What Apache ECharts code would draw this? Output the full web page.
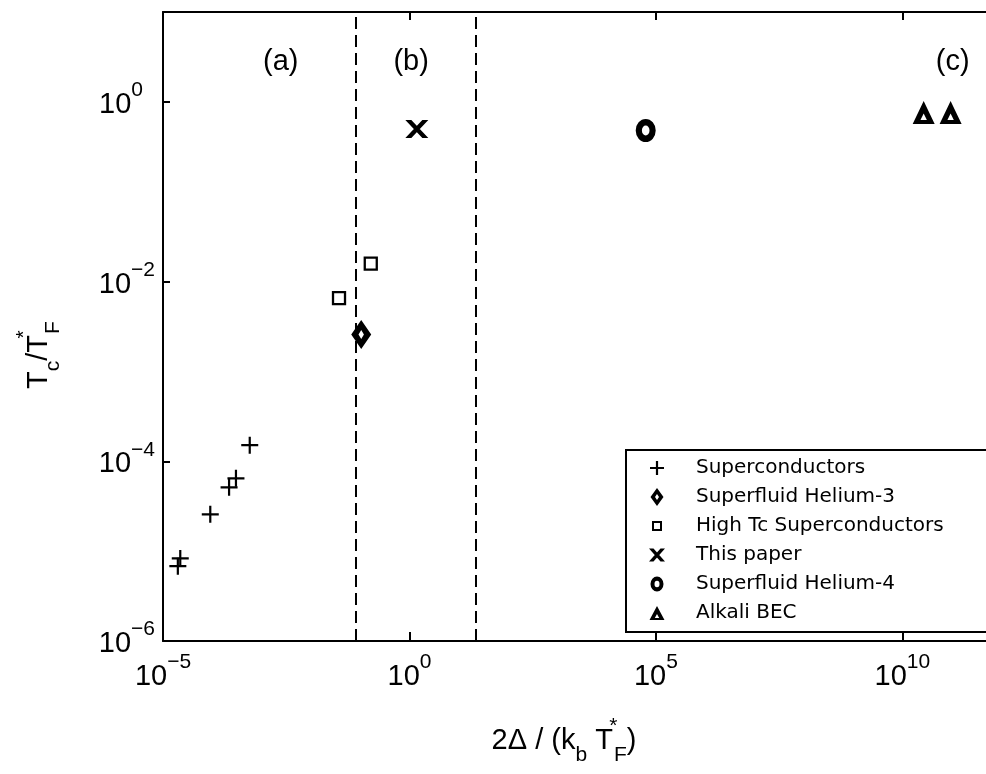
<!DOCTYPE html>
<html>
<head>
<meta charset="utf-8">
<script src="https://cdn.jsdelivr.net/npm/echarts@6/dist/echarts.min.js"></script>
<style>html,body{margin:0;padding:0;background:#fff}#c{width:986px;height:774px}</style>
</head>
<body>
<div id="c"></div>
<script>
// ---- data ----
const superconductors = [[5.75e-4, 1.51e-4], [3.02e-4, 6.46e-5], [2.19e-4, 5.13e-5], [9.1e-5, 2.57e-5], [2.24e-5, 8.3e-6], [2.0e-5, 6.8e-6]];
const helium3 = [[0.105, 2.57e-3]];
const highTc = [[0.164, 0.0158], [0.0372, 6.53e-3]];
const thisPaper = [[1.41, 0.50]];
const helium4 = [[6.2e4, 0.48]];
const alkaliBEC = [[2.7e10, 0.76], [9.5e10, 0.76]];
const regionBounds = [0.079, 21.6];
const annotationText = ['(a)', '(b)', '(c)'];
const annotationX = [2.45e-3, 1.08, 1.05e11];
const annotationY = [2.8, 2.8, 2.8];
const seriesNames = ['Superconductors', 'Superfluid Helium-3', 'High Tc Superconductors', 'This paper', 'Superfluid Helium-4', 'Alkali BEC'];
const xRange = [1e-5, 1e12];
const yRange = [1e-6, 10];
const xTickStep = 5;   // decades
const yTickStep = 2;   // decades

// ---- styles ----
const F = '"Liberation Sans", Arial, Helvetica, sans-serif';
// plot markers
const PLUS = 'path://M-1.1,-8.5H1.1V-1.1H8.5V1.1H1.1V8.5H-1.1V1.1H-8.5V-1.1H-1.1Z';
const CROSS = 'path://M-11.5,-9L-5.5,-9L11.5,9L5.5,9Z M5.5,-9L11.5,-9L-5.5,9L-11.5,9Z';
const DIAMOND = 'path://M0,-14.5L10,0L0,14.5L-10,0Z M0,-4.5L-2.7,0L0,4.5L2.7,0Z';
const RING = 'path://M0,-11.5A10,11.5,0,1,1,0,11.5A10,11.5,0,1,1,0,-11.5Z M0,-5A3.8,5,0,1,0,0,5A3.8,5,0,1,0,0,-5Z';
const TRI = 'path://M0,-11.5L11,11.5L-11,11.5Z M0,1L-3.2,7.5L3.2,7.5Z';
// legend icons (20x20 frame kept by degenerate corner points)
const FRAME = 'M-10,-10L-10,-10Z M10,10L10,10Z ';
const L_PLUS = 'path://' + FRAME + 'M-1.1,-7H1.1V-1.1H7V1.1H1.1V7H-1.1V1.1H-7V-1.1H-1.1Z';
const L_DIAMOND = 'path://' + FRAME + 'M0,-9L6.5,0L0,9L-6.5,0Z M0,-3L-2,0L0,3L2,0Z';
const L_SQUARE = 'path://' + FRAME + 'M-5,-5H5V5H-5Z M-3,-3V3H3V-3Z';
const L_CROSS = 'path://' + FRAME + 'M-8,-6.5L-3.5,-6.5L8,6.5L3.5,6.5Z M3.5,-6.5L8,-6.5L-3.5,6.5L-8,6.5Z';
const L_RING = 'path://' + FRAME + 'M0,-7.5A6.5,7.5,0,1,1,0,7.5A6.5,7.5,0,1,1,0,-7.5Z M0,-3.2A2.5,3.2,0,1,0,0,3.2A2.5,3.2,0,1,0,0,-3.2Z';
const L_TRI = 'path://' + FRAME + 'M0,-7L7.5,7L-7.5,7Z M0,1L-2.2,5L2.2,5Z';

function powLabel(v) {
  const e = Math.round(Math.log10(v));
  return '{b|10}{s|' + (e < 0 ? '\u2212' + (-e) : String(e)) + '}';
}
function powLabelY(v) {
  const e = Math.round(Math.log10(v));
  return e < 0 ? '{b|10}{s|\u2212' + (-e) + '}' : '{b|10}{sp|' + e + '}';
}
const xTickRich = {
  b: { fontFamily: F, fontSize: 29, lineHeight: 50, color: '#000', verticalAlign: 'middle' },
  s: { fontFamily: F, fontSize: 21, lineHeight: 21, color: '#000', verticalAlign: 'top' }
};
const yTickRich = {
  b: { fontFamily: F, fontSize: 29, lineHeight: 50, color: '#000', verticalAlign: 'middle' },
  s: { fontFamily: F, fontSize: 21, lineHeight: 21, color: '#000', verticalAlign: 'top' },
  sp: { fontFamily: F, fontSize: 21, lineHeight: 21, color: '#000', verticalAlign: 'top', padding: [0, 12, 0, 0] }
};
const nameRich = {
  t: { fontFamily: F, fontSize: 29, lineHeight: 50, fill: '#000', verticalAlign: 'middle' },
  sub: { fontFamily: F, fontSize: 21, lineHeight: 21, fill: '#000', verticalAlign: 'bottom' },
  sup: { fontFamily: F, fontSize: 21, lineHeight: 21, fill: '#000', verticalAlign: 'top', width: 1 }
};

const black = '#000';
function axisBase(extra) {
  return Object.assign({
    type: 'log', logBase: 10,
    axisLine: { show: true, lineStyle: { color: black, width: 2 } },
    splitLine: { show: false },
    minorTick: { show: false },
    minorSplitLine: { show: false }
  }, extra);
}
const solid = { color: black, opacity: 1, borderWidth: 0 };

const chart = echarts.init(document.getElementById('c'), null, { renderer: 'canvas' });
chart.setOption({
  animation: false,
  backgroundColor: '#fff',
  grid: { left: 163, right: -15, top: 12, bottom: 133, containLabel: false, outerBoundsMode: 'none' },
  xAxis: [
    axisBase({
      position: 'bottom', min: xRange[0], max: xRange[1], interval: xTickStep,
      axisTick: { show: true, inside: true, length: 9, lineStyle: { color: black, width: 2 } },
      axisLabel: { show: true, margin: 11, formatter: powLabel, rich: xTickRich, showMaxLabel: false, showMinLabel: true, hideOverlap: false }
    }),
    axisBase({
      position: 'top', min: xRange[0], max: xRange[1], interval: xTickStep,
      axisTick: { show: true, inside: true, length: 8, lineStyle: { color: black, width: 2 } },
      axisLabel: { show: false }
    })
  ],
  yAxis: [
    axisBase({
      position: 'left', min: yRange[0], max: yRange[1], interval: yTickStep,
      axisTick: { show: true, inside: true, length: 7, lineStyle: { color: black, width: 2 } },
      axisLabel: { show: true, margin: 8, padding: [6, 0, 0, 0], formatter: powLabelY, rich: yTickRich, showMaxLabel: false, showMinLabel: true, hideOverlap: false }
    })
  ],
  legend: {
    orient: 'vertical', left: 626, top: 450,
    padding: [8, 0, 9, 21],
    itemWidth: 20, itemHeight: 20, itemGap: 9,
    borderColor: black, borderWidth: 2, borderRadius: 0, backgroundColor: '#fff',
    selectedMode: false,
    textStyle: { fontFamily: '"DejaVu Sans", sans-serif', fontSize: 20, color: black, lineHeight: 20, width: 300, padding: [0, 0, 0, 24] },
    data: [
      { name: seriesNames[0], icon: L_PLUS, itemStyle: solid },
      { name: seriesNames[1], icon: L_DIAMOND, itemStyle: solid },
      { name: seriesNames[2], icon: L_SQUARE, itemStyle: solid },
      { name: seriesNames[3], icon: L_CROSS, itemStyle: solid },
      { name: seriesNames[4], icon: L_RING, itemStyle: solid },
      { name: seriesNames[5], icon: L_TRI, itemStyle: solid }
    ]
  },
  graphic: [
    {
      type: 'text', x: 564, y: 741, silent: true,
      style: { text: '{t|2\u0394 / (k}{sub|b}{t| T}{sup|*}{sub|F}{t|)}', align: 'center', verticalAlign: 'middle', rich: nameRich }
    },
    {
      type: 'text', x: 39, y: 355, rotation: Math.PI / 2, silent: true,
      style: { text: '{t|T}{sub|c}{t|/T}{sup|*}{sub|F}', align: 'center', verticalAlign: 'middle', rich: nameRich }
    }
  ],
  series: [
    {
      name: seriesNames[0], type: 'scatter', data: superconductors,
      symbol: PLUS, symbolSize: [17, 17], itemStyle: solid,
      markLine: {
        silent: true, symbol: 'none', label: { show: false },
        lineStyle: { color: black, width: 2, type: [12, 6], opacity: 1 },
        data: regionBounds.map(v => ({ xAxis: v }))
      }
    },
    { name: seriesNames[1], type: 'scatter', data: helium3, symbol: DIAMOND, symbolSize: [20, 29], itemStyle: solid },
    { name: seriesNames[2], type: 'scatter', data: highTc, symbol: 'rect', symbolSize: 12, itemStyle: { color: '#fff', borderColor: black, borderWidth: 2.3, opacity: 1 } },
    { name: seriesNames[3], type: 'scatter', data: thisPaper, symbol: CROSS, symbolSize: [23, 18], itemStyle: solid },
    { name: seriesNames[4], type: 'scatter', data: helium4, symbol: RING, symbolSize: [20, 23], itemStyle: solid },
    { name: seriesNames[5], type: 'scatter', data: alkaliBEC, symbol: TRI, symbolSize: [22, 23], itemStyle: solid },
    {
      name: 'annotations', type: 'scatter', silent: true,
      data: annotationText.map((t, i) => ({ name: t, value: [annotationX[i], annotationY[i]] })),
      symbolSize: 1, itemStyle: { color: 'rgba(0,0,0,0)', opacity: 1 },
      label: { show: true, position: 'inside', formatter: p => p.name, fontFamily: F, fontSize: 29, color: black, opacity: 1 }
    }
  ]
});
</script>
</body>
</html>
